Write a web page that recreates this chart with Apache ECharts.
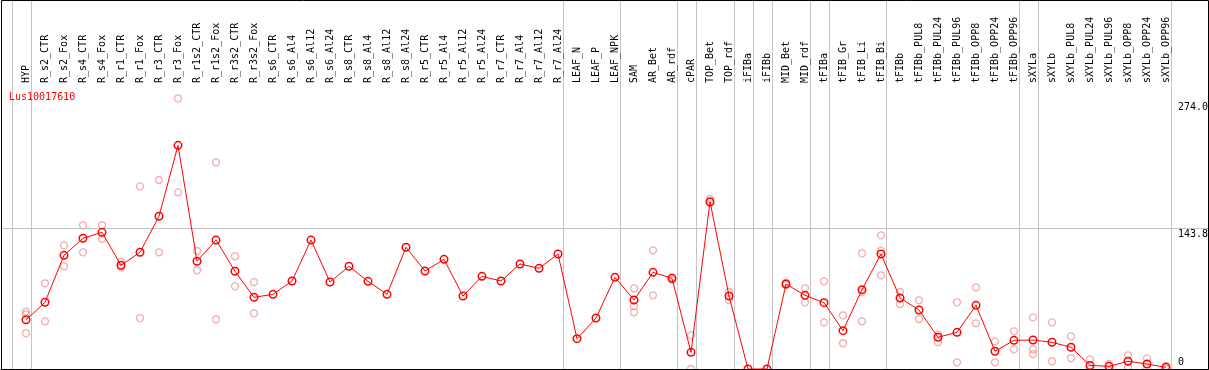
<!DOCTYPE html>
<html><head><meta charset="utf-8">
<script src="https://cdn.jsdelivr.net/npm/echarts@6/dist/echarts.min.js"></script>
<style>html,body{margin:0;padding:0;background:#fff}#c{width:1209px;height:370px}</style>
</head><body><div id="c"></div>
<script>
const chartTitle = 'Lus10017610';
const categories = ['HYP','R_s2_CTR','R_s2_Fox','R_s4_CTR','R_s4_Fox','R_r1_CTR','R_r1_Fox','R_r3_CTR','R_r3_Fox','R_r1s2_CTR','R_r1s2_Fox','R_r3s2_CTR','R_r3s2_Fox','R_s6_CTR','R_s6_Al4','R_s6_Al12','R_s6_Al24','R_s8_CTR','R_s8_Al4','R_s8_Al12','R_s8_Al24','R_r5_CTR','R_r5_Al4','R_r5_Al12','R_r5_Al24','R_r7_CTR','R_r7_Al4','R_r7_Al12','R_r7_Al24','LEAF_N','LEAF_P','LEAF_NPK','SAM','AR_Bet','AR_rdf','cPAR','TOP_Bet','TOP_rdf','iFIBa','iFIBb','MID_Bet','MID_rdf','tFIBa','tFIB_Gr','tFIB_Li','tFIB_Bi','tFIBb','tFIBb_PUL8','tFIBb_PUL24','tFIBb_PUL96','tFIBb_OPP8','tFIBb_OPP24','tFIBb_OPP96','sXYLa','sXYLb','sXYLb_PUL8','sXYLb_PUL24','sXYLb_PUL96','sXYLb_OPP8','sXYLb_OPP24','sXYLb_OPP96'];
const means = [50.3,68.2,116.2,133.6,139.7,106.0,119.3,156.1,228.6,110.1,131.8,99.9,73.3,76.3,89.9,131.8,88.9,105.0,89.6,76.3,124.4,100.2,112.1,74.6,94.7,89.9,107.3,102.9,117.5,31.0,52.1,93.7,70.5,98.8,92.7,17.0,171.0,74.6,0,0,86.9,75.3,67.8,39.2,81.1,117.5,72.6,60.3,32.4,37.5,65.1,18.1,29.3,29.6,27.3,22.2,3.7,2.7,7.9,5.1,1.7];
const replicates = [
  [58.6,55.9,36.5],[87.6,48.7],[126.4,105.0],[146.9,119.3],[146.9,133.2],[109.7,103.9],[186.7,52.1],[193.2,119.3],[276.7,180.6],[120.6,100.9],
  [211.3,50.8],[115.2,84.5],[88.9,56.9],[],[],[],[],[],[],[],
  [],[],[],[],[],[],[],[],[],[],
  [],[],[82.5,64.4,57.9],[121.3,75.3],[93.7,91.0],[34.4,0],[173.8,169.3],[78.7,70.5],[],[],
  [88.2,85.8],[82.5,68.2],[89.6,47.7],[54.9,26.3],[118.2,78.7,48.7],[136.6,120.9,95.8],[78.7,66.4],[70.2,51.1],[35.1,27.6],[68.2,6.8],
  [83.5,46.7],[28.3,6.8],[38.5,20.1],[52.8,20.1,15.3],[47.7,7.9],[33.4,11.2],[9.9,0],[5.1,0.7],[14.0,1.7],[10.9,0.7],
  [3.1,0]
];
const yTickValues = [274.0, 143.8, 0];
const yTickLabels = ['274.0', '143.8', '0'];
const gridLineValues = [143.8];
const separatorsAfter = [-1, 0, 28, 31, 34, 35, 37, 38, 39, 41, 42, 45, 52, 53, 60];
const yMax = 290.3;

const FONT = 'DejaVu Sans Mono';
const chart = echarts.init(document.getElementById('c'), null, {renderer: 'canvas'});
const repPoints = [];
replicates.forEach((r, i) => r.forEach(v => repPoints.push([i, v])));
const xMin = -25 / 19, xMax = 1182 / 19;

chart.setOption({
  animation: false,
  title: {text: chartTitle, left: 9, top: 92, padding: 0,
    textStyle: {color: '#ff0000', fontSize: 10, fontFamily: FONT, fontWeight: 'normal'}},
  grid: {left: 1, right: 1, top: 85, bottom: 1, containLabel: false},
  xAxis: {type: 'value', position: 'top', min: xMin, max: xMax,
    axisLine: {show: true, lineStyle: {color: '#000', width: 1}},
    axisTick: {show: false}, splitLine: {show: false},
    axisLabel: {customValues: categories.map((_, i) => i), formatter: v => categories[Math.round(v)] || '',
      rotate: 90, margin: 2, fontFamily: FONT, fontSize: 10, color: '#000'}},
  yAxis: {type: 'value', min: 0, max: yMax, show: false},
  series: [
    {type: 'scatter', data: repPoints, symbol: 'circle', symbolSize: 7,
      itemStyle: {color: 'rgba(0,0,0,0)', borderColor: '#ee9a9a', borderWidth: 1.3}, z: 2},
    {type: 'line', data: means.map((v, i) => [i, v]), symbol: 'circle', symbolSize: 7.5,
      lineStyle: {color: '#ff0000', width: 1},
      itemStyle: {color: 'rgba(0,0,0,0)', borderColor: '#ff0000', borderWidth: 1.5}, z: 3}
  ]
});

const g = [];
separatorsAfter.forEach(k => {
  const x = Math.round(chart.convertToPixel({xAxisIndex: 0}, k + 4.7 / 19)) + 0.5;
  g.push({type: 'line', silent: true, z: 0, shape: {x1: x, y1: 0, x2: x, y2: 370}, style: {stroke: '#c4c4c4', lineWidth: 1}});
});
gridLineValues.forEach(v => {
  const y = Math.round(chart.convertToPixel({yAxisIndex: 0}, v)) + 0.5;
  g.push({type: 'line', silent: true, z: 0, shape: {x1: 1, y1: y, x2: 1208, y2: y}, style: {stroke: '#c4c4c4', lineWidth: 1}});
});
yTickValues.forEach((v, i) => {
  const y = chart.convertToPixel({yAxisIndex: 0}, v);
  const isMin = v === 0;
  g.push({type: 'text', silent: true, z: 10,
    style: {text: yTickLabels[i], x: 1178, y: isMin ? y - 2 : y + 1, font: '10px ' + FONT, fill: '#000',
      align: 'left', verticalAlign: isMin ? 'bottom' : 'top'}});
});
g.push({type: 'rect', silent: true, z: 20, shape: {x: 1.5, y: 0.5, width: 1207, height: 369},
  style: {fill: 'none', stroke: '#000', lineWidth: 1}});
chart.setOption({graphic: g});
</script>
</body></html>
